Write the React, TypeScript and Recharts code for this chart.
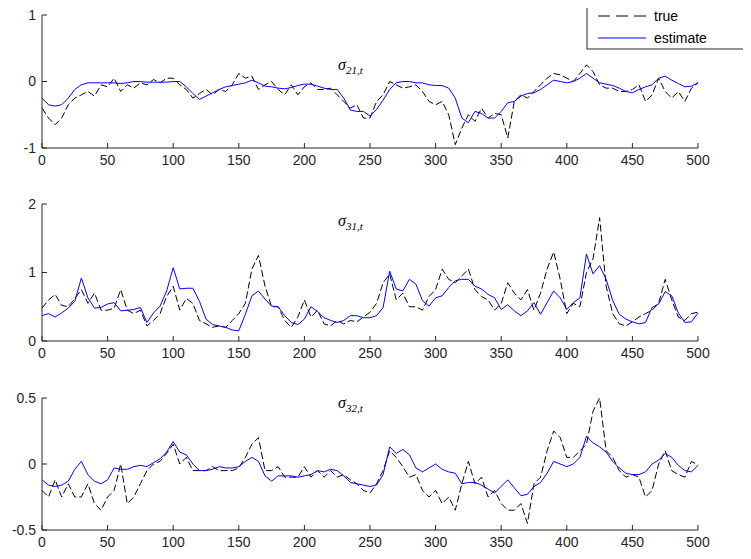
import React from 'react';
import { LineChart, Line, XAxis, YAxis } from 'recharts';

const t = Array.from({ length: 101 }, (_, i) => i * 5);

const true21 = [-0.4, -0.55, -0.65, -0.55, -0.35, -0.25, -0.2, -0.15, -0.22, -0.05, -0.08, 0.05, -0.15, -0.05, -0.1, -0.02, -0.05, 0.03, -0.02, 0.05, 0.05, -0.05, -0.12, -0.25, -0.18, -0.12, -0.2, -0.12, -0.15, -0.05, 0.12, 0.05, 0.08, -0.12, -0.05, 0.0, -0.12, -0.2, -0.05, -0.2, -0.08, -0.02, -0.12, -0.12, -0.1, -0.2, -0.3, -0.4, -0.35, -0.55, -0.55, -0.3, -0.2, 0.0, -0.05, -0.1, -0.08, -0.05, -0.15, -0.3, -0.35, -0.3, -0.5, -0.95, -0.7, -0.5, -0.6, -0.4, -0.55, -0.48, -0.5, -0.85, -0.3, -0.2, -0.25, -0.15, -0.05, 0.05, 0.12, 0.1, 0.05, 0.0, 0.12, 0.25, 0.15, -0.05, -0.1, -0.1, -0.15, -0.15, -0.12, -0.05, -0.3, -0.2, 0.05, -0.15, -0.25, -0.15, -0.3, -0.1, -0.02];
const est21 = [-0.25, -0.35, -0.37, -0.35, -0.25, -0.12, -0.05, -0.02, -0.02, -0.02, -0.02, -0.02, -0.03, -0.02, 0.0, 0.0, -0.01, -0.01, -0.01, -0.01, 0.0, 0.0, -0.08, -0.18, -0.27, -0.22, -0.17, -0.12, -0.08, -0.06, -0.04, -0.02, 0.02, -0.02, -0.07, -0.08, -0.1, -0.11, -0.09, -0.06, -0.04, -0.04, -0.07, -0.1, -0.12, -0.12, -0.25, -0.43, -0.45, -0.45, -0.52, -0.42, -0.28, -0.12, -0.02, 0.0, 0.0, -0.02, -0.02, -0.05, -0.06, -0.06, -0.1, -0.25, -0.55, -0.62, -0.45, -0.48, -0.55, -0.55, -0.45, -0.32, -0.3, -0.22, -0.18, -0.17, -0.12, -0.05, 0.02, 0.0, -0.02, 0.0, 0.05, 0.12, 0.05, -0.02, -0.04, -0.06, -0.1, -0.15, -0.17, -0.12, -0.08, -0.05, 0.05, 0.08, 0.02, -0.03, -0.08, -0.07, -0.02];

const true31 = [0.48, 0.6, 0.68, 0.52, 0.5, 0.62, 0.75, 0.55, 0.7, 0.45, 0.45, 0.48, 0.75, 0.45, 0.4, 0.45, 0.22, 0.3, 0.4, 0.65, 0.8, 0.45, 0.62, 0.55, 0.3, 0.25, 0.2, 0.22, 0.2, 0.3, 0.4, 0.55, 1.05, 1.25, 0.8, 0.5, 0.5, 0.3, 0.2, 0.35, 0.6, 0.35, 0.45, 0.25, 0.22, 0.3, 0.25, 0.3, 0.28, 0.35, 0.42, 0.55, 0.85, 0.98, 0.6, 0.7, 0.5, 0.5, 0.45, 0.65, 0.75, 1.05, 0.9, 0.85, 0.95, 1.05, 0.75, 0.65, 0.6, 0.45, 0.55, 0.85, 0.7, 0.6, 0.75, 0.45, 0.7, 1.05, 1.3, 0.9, 0.4, 0.55, 0.5, 1.0, 1.2, 1.8, 0.8, 0.4, 0.25, 0.22, 0.28, 0.35, 0.4, 0.45, 0.55, 0.9, 0.6, 0.35, 0.3, 0.4, 0.42];
const est31 = [0.37, 0.4, 0.35, 0.41, 0.48, 0.58, 0.92, 0.63, 0.48, 0.49, 0.54, 0.56, 0.44, 0.45, 0.46, 0.49, 0.27, 0.41, 0.51, 0.73, 1.07, 0.76, 0.77, 0.77, 0.58, 0.32, 0.24, 0.22, 0.2, 0.16, 0.15, 0.39, 0.66, 0.73, 0.61, 0.51, 0.5, 0.37, 0.27, 0.24, 0.32, 0.5, 0.43, 0.34, 0.3, 0.27, 0.3, 0.37, 0.37, 0.34, 0.34, 0.37, 0.49, 1.02, 0.76, 0.73, 0.9, 0.83, 0.59, 0.51, 0.63, 0.66, 0.78, 0.88, 0.9, 0.9, 0.8, 0.76, 0.68, 0.63, 0.46, 0.53, 0.44, 0.37, 0.44, 0.56, 0.39, 0.56, 0.73, 0.63, 0.46, 0.56, 0.63, 1.27, 0.98, 1.1, 0.9, 0.59, 0.39, 0.32, 0.28, 0.25, 0.27, 0.49, 0.54, 0.72, 0.66, 0.41, 0.27, 0.28, 0.41];

const true32 = [-0.2, -0.25, -0.12, -0.25, -0.15, -0.25, -0.25, -0.15, -0.3, -0.35, -0.25, -0.2, 0.0, -0.3, -0.25, -0.15, -0.05, 0.0, 0.02, 0.08, 0.15, 0.0, 0.05, -0.05, -0.05, -0.05, -0.02, -0.05, -0.05, -0.05, -0.03, 0.05, 0.15, 0.2, -0.05, -0.05, -0.02, -0.1, -0.1, -0.1, -0.02, -0.1, -0.05, -0.1, -0.05, -0.1, -0.08, -0.12, -0.15, -0.2, -0.22, -0.15, -0.05, 0.1, 0.05, -0.02, -0.1, -0.08, -0.2, -0.25, -0.2, -0.3, -0.25, -0.35, -0.15, 0.02, -0.15, -0.1, -0.25, -0.2, -0.3, -0.35, -0.35, -0.3, -0.45, -0.15, -0.1, 0.1, 0.25, 0.2, 0.05, 0.05, 0.1, 0.15, 0.4, 0.5, 0.1, 0.05, -0.05, -0.1, -0.08, -0.1, -0.25, -0.2, 0.0, 0.1, -0.05, -0.08, -0.1, 0.02, -0.01];
const est32 = [-0.12, -0.16, -0.17, -0.16, -0.13, -0.04, 0.02, -0.08, -0.13, -0.15, -0.12, -0.03, -0.04, -0.04, -0.02, -0.01, -0.02, 0.01, 0.04, 0.09, 0.17, 0.09, 0.07, 0.0, -0.05, -0.05, -0.04, -0.02, -0.03, -0.03, -0.02, 0.02, 0.05, 0.02, -0.09, -0.13, -0.09, -0.09, -0.09, -0.1, -0.09, -0.08, -0.05, -0.06, -0.04, -0.05, -0.09, -0.14, -0.15, -0.16, -0.17, -0.16, -0.08, 0.13, 0.08, 0.11, 0.07, -0.03, -0.06, -0.03, 0.0, -0.04, -0.06, -0.07, -0.15, -0.14, -0.14, -0.16, -0.19, -0.22, -0.17, -0.12, -0.18, -0.24, -0.23, -0.17, -0.14, -0.07, 0.02, 0.0, -0.02, 0.0, 0.05, 0.21, 0.16, 0.13, 0.09, 0.02, -0.03, -0.07, -0.08, -0.08, -0.06, 0.0, 0.03, 0.08, 0.05, -0.01, -0.05, -0.06, -0.01];

const xTicks = [0, 50, 100, 150, 200, 250, 300, 350, 400, 450, 500];
const font = 'Liberation Sans, Arial, sans-serif';
const tickStyle = { fontSize: 14, fill: '#262626', fontFamily: font };

const Panel = ({ top, height, mt, trueS, estS, domain, yTicks, sub, titleTop }) => {
  const data = t.map((x, i) => ({ t: x, truth: trueS[i], est: estS[i] }));
  return (
    <div style={{ position: 'absolute', left: 0, top, width: 751, height }}>
      <LineChart width={751} height={height} data={data} margin={{ top: mt, right: 53, bottom: 0, left: 12 }}>
        <XAxis dataKey="t" type="number" domain={[0, 500]} ticks={xTicks} tick={tickStyle} height={27}
          stroke="#262626" tickSize={-5} tickMargin={12} interval={0} />
        <YAxis type="number" domain={domain} ticks={yTicks} width={30} tick={tickStyle}
          stroke="#262626" tickSize={-5} tickMargin={11} allowDataOverflow />
        <Line dataKey="truth" stroke="#000" strokeWidth={1} strokeDasharray="7 3" dot={false} isAnimationActive={false} />
        <Line dataKey="est" stroke="#0000ff" strokeWidth={1} dot={false} isAnimationActive={false} />
      </LineChart>
      <div style={{ position: 'absolute', left: 338, top: titleTop, fontFamily: 'Liberation Serif, serif', fontStyle: 'italic', fontSize: 16 }}>
        σ<sub style={{ fontSize: 11 }}>{sub}</sub>
      </div>
    </div>
  );
};

export default function App() {
  return (
    <div style={{ position: 'relative', width: 751, height: 559, background: '#fff', margin: -8 }}>
      <Panel top={0} height={175} mt={15} trueS={true21} estS={est21} domain={[-1, 1]} yTicks={[-1, 0, 1]} sub="21,t" titleTop={56} />
      <Panel top={190} height={178} mt={14} trueS={true31} estS={est31} domain={[0, 2]} yTicks={[0, 1, 2]} sub="31,t" titleTop={22} />
      <Panel top={384} height={173} mt={14} trueS={true32} estS={est32} domain={[-0.5, 0.5]} yTicks={[-0.5, 0, 0.5]} sub="32,t" titleTop={10} />
      <svg width={162} height={50} style={{ position: 'absolute', zIndex: 10, left: 586, top: 1 }}>
        <rect x={1} y={1} width={159} height={47} fill="#fff" stroke="#262626" strokeWidth={1} />
        <line x1={12} x2={60} y1={15} y2={15} stroke="#000" strokeDasharray="12 6" />
        <text x={68} y={20} fontFamily={font} fontSize={14} fill="#000">true</text>
        <line x1={12} x2={60} y1={37} y2={37} stroke="#0000ff" />
        <text x={68} y={42} fontFamily={font} fontSize={14} fill="#000">estimate</text>
      </svg>
    </div>
  );
}
